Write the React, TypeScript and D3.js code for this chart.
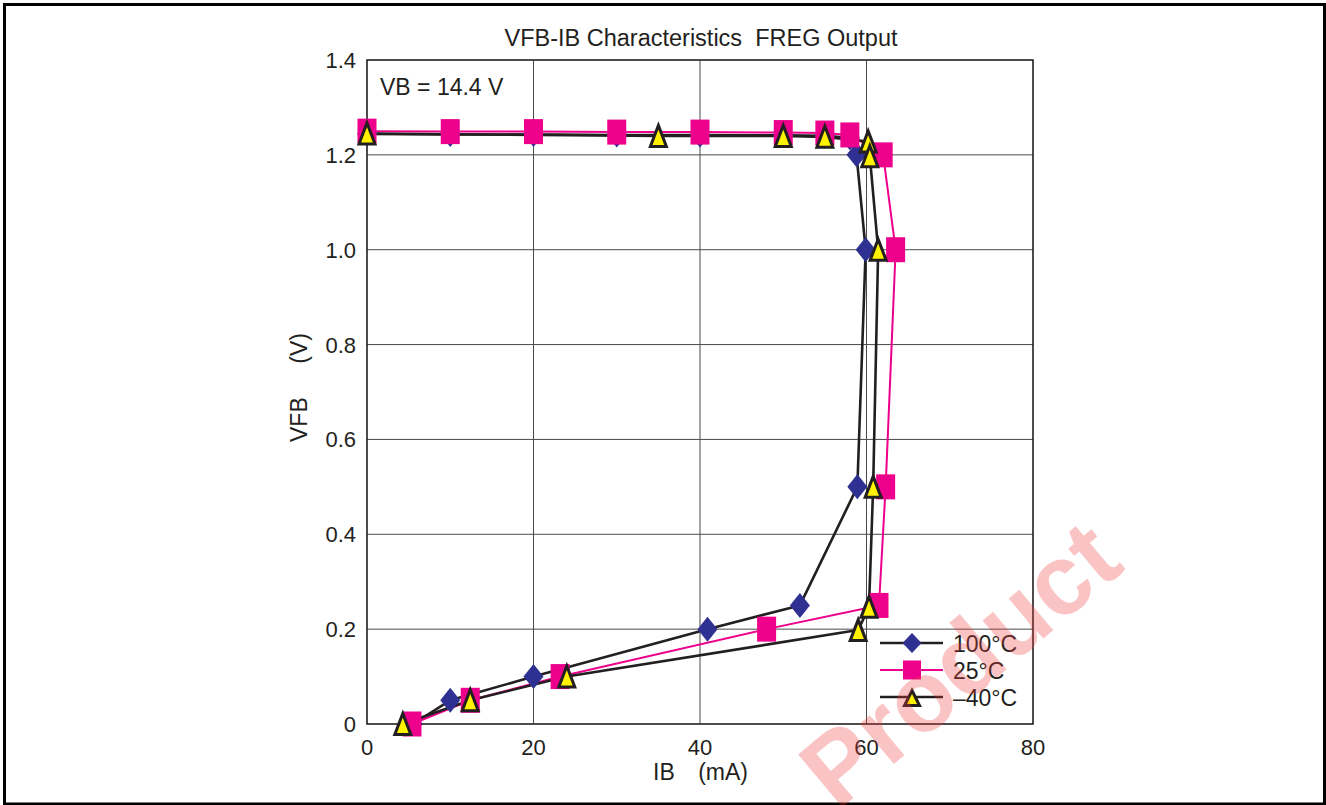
import React from "react";
import * as d3 from "d3";

// axis ticks
const ibTicks = [0, 20, 40, 60, 80];
const vfbTicks = [0, 0.2, 0.4, 0.6, 0.8, 1.0, 1.2, 1.4];
const vfbTickLabels = ["0", "0.2", "0.4", "0.6", "0.8", "1.0", "1.2", "1.4"];

const seriesNames = ["100°C", "25°C", "–40°C"];

// 100°C  (diamond)
const ib100 = [0, 10, 20, 30, 40, 50, 55, 58, 58.8, 59.9, 58.9, 52, 40.9, 20, 10, 5.5];
const vfb100 = [1.244, 1.243, 1.243, 1.242, 1.242, 1.241, 1.24, 1.236, 1.2, 1.0, 0.5, 0.25, 0.2, 0.1, 0.05, 0];

// 25°C  (square)
const ib25 = [0, 10, 20, 30, 40, 50, 55, 58, 62, 63.5, 62.3, 61.5, 48, 23.2, 12.4, 5.4];
const vfb25 = [1.25, 1.249, 1.249, 1.248, 1.248, 1.247, 1.246, 1.242, 1.2, 1.0, 0.5, 0.25, 0.2, 0.1, 0.05, 0];

// -40°C  (triangle)
const ibM40 = [0, 35, 50, 55, 60.2, 60.4, 61.4, 60.8, 60.3, 59, 24, 12.4, 4.3];
const vfbM40 = [1.245, 1.24, 1.24, 1.238, 1.228, 1.197, 1.0, 0.5, 0.247, 0.198, 0.1, 0.05, 0];

const ink = "#231F20";
const pink = "#EC008C";
const navy = "#2E3192";
const yellow = "#FFF200";

function diamond(w: number, h: number) {
  return `M0,${-h / 2}L${w / 2},0L0,${h / 2}L${-w / 2},0Z`;
}
function triangle(w: number, h: number) {
  return `M0,${-h / 2}L${w / 2},${h / 2}L${-w / 2},${h / 2}Z`;
}

export default function App() {
  const x = d3.scaleLinear().domain([0, 80]).range([367, 1033]);
  const y = d3.scaleLinear().domain([0, 1.4]).range([724, 60]);

  const pts = (xs: number[], ys: number[]) => xs.map((v, i) => [v, ys[i]] as [number, number]);
  const s100 = pts(ib100, vfb100);
  const s25 = pts(ib25, vfb25);
  const sM40 = pts(ibM40, vfbM40);

  const line = d3
    .line<[number, number]>()
    .x((d) => x(d[0]))
    .y((d) => y(d[1]));

  const font = "'Liberation Sans', Arial, Helvetica, sans-serif";

  const legendY = [643, 670, 697];

  return (
    <div style={{ position: "absolute", left: 0, top: 0 }}>
      <svg width={1326} height={805} style={{ display: "block" }} fontFamily={font}>
        <rect x={0} y={0} width={1326} height={805} fill="#fff" />
        <rect x={4.5} y={4.5} width={1320} height={799.5} fill="none" stroke="#000" strokeWidth={3} />

        {/* grid */}
        {ibTicks.slice(1, -1).map((t) => (
          <line key={"gx" + t} x1={x(t)} x2={x(t)} y1={y(0)} y2={y(1.4)} stroke="#4a4a4a" strokeWidth={1} />
        ))}
        {vfbTicks.slice(1, -1).map((t) => (
          <line key={"gy" + t} x1={x(0)} x2={x(80)} y1={y(t)} y2={y(t)} stroke="#4a4a4a" strokeWidth={1} />
        ))}

        {/* legend background hides gridline */}
        <rect x={875} y={633} width={151} height={82} fill="#fff" />

        <rect x={x(0)} y={y(1.4)} width={x(80) - x(0)} height={y(0) - y(1.4)} fill="none" stroke={ink} strokeWidth={1.6} />

        {/* tick labels */}
        {ibTicks.map((t) => (
          <text key={"tx" + t} x={x(t)} y={755} fontSize={22} textAnchor="middle" fill={ink}>
            {t}
          </text>
        ))}
        {vfbTicks.map((t, i) => (
          <text key={"ty" + t} x={356} y={y(t) + 8} fontSize={22} textAnchor="end" fill={ink}>
            {vfbTickLabels[i]}
          </text>
        ))}

        {/* titles */}
        <text x={701} y={46} fontSize={23.5} textAnchor="middle" fill={ink}>
          VFB-IB Characteristics{"\u00a0\u00a0"}FREG Output
        </text>
        <text x={380} y={95} fontSize={23} fill={ink}>
          VB = 14.4 V
        </text>
        <text x={653} y={780} fontSize={23} fill={ink}>
          IB
        </text>
        <text x={748} y={780} fontSize={23} textAnchor="end" fill={ink}>
          (mA)
        </text>
        <text transform="translate(307,442) rotate(-90)" fontSize={23} fill={ink}>
          VFB
        </text>
        <text transform="translate(307,333) rotate(-90)" fontSize={23} textAnchor="end" fill={ink}>
          (V)
        </text>

        {/* series lines */}
        <path d={line(s100) || ""} fill="none" stroke={ink} strokeWidth={2.6} strokeLinejoin="round" />
        <path d={line(s25) || ""} fill="none" stroke={pink} strokeWidth={2} strokeLinejoin="round" />
        <path d={line(sM40) || ""} fill="none" stroke={ink} strokeWidth={2.6} strokeLinejoin="round" />

        {/* markers */}
        {s100.map((d, i) => (
          <path key={"d" + i} d={diamond(20, 25)} transform={`translate(${x(d[0])},${y(d[1])})`} fill={navy} />
        ))}
        {s25.map((d, i) => (
          <rect key={"s" + i} x={x(d[0]) - 9.5} y={y(d[1]) - 12.5} width={19} height={25} fill={pink} />
        ))}
        {sM40.map((d, i) => (
          <path
            key={"t" + i}
            d={triangle(16, 21)}
            transform={`translate(${x(d[0])},${y(d[1])})`}
            fill={yellow}
            stroke={ink}
            strokeWidth={3}
            strokeLinejoin="miter"
          />
        ))}

        {/* legend */}
        {seriesNames.map((name, i) => (
          <g key={"lg" + i}>
            <line x1={880} x2={943} y1={legendY[i]} y2={legendY[i]} stroke={i === 1 ? pink : ink} strokeWidth={i === 1 ? 2 : 2.6} />
            {i === 0 && <path d={diamond(19, 20)} transform={`translate(912,${legendY[i]})`} fill={navy} />}
            {i === 1 && <rect x={912 - 9} y={legendY[i] - 9.5} width={18} height={19} fill={pink} />}
            {i === 2 && (
              <path d={triangle(15, 15)} transform={`translate(912,${legendY[i] + 1})`} fill={yellow} stroke={ink} strokeWidth={3} />
            )}
            <text x={953} y={legendY[i] + 8.5} fontSize={23} fill={ink}>
              {name}
            </text>
          </g>
        ))}

        {/* watermark */}
        <text
          transform="translate(982,690) rotate(-40)"
          fontSize={100}
          fontWeight="bold"
          textAnchor="middle"
          fill="#EE3B3B"
          fillOpacity={0.3}
        >
          Product
        </text>
      </svg>
    </div>
  );
}
